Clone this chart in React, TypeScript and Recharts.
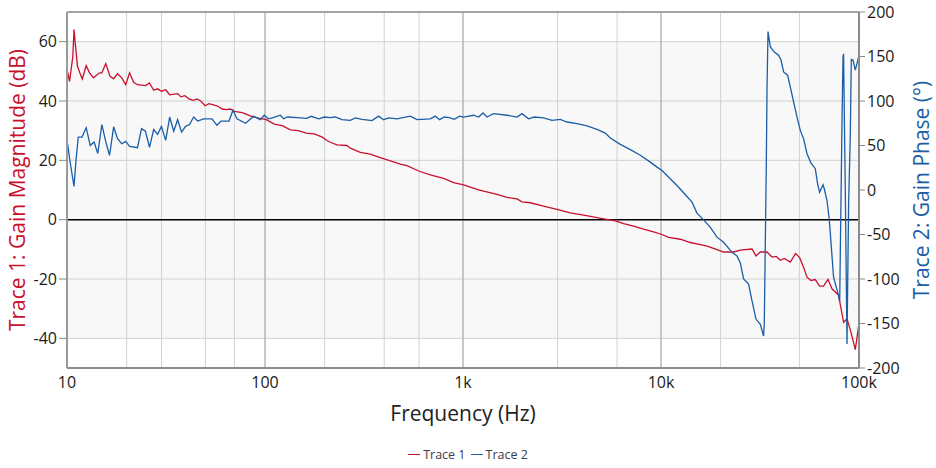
import React from 'react';
import { LineChart, Line, XAxis, YAxis, CartesianGrid, ReferenceLine, Legend } from 'recharts';

const FONT = '"Open Sans", "Noto Sans", sans-serif';
const RED = '#c8102e';
const BLUE = '#1b5ea6';

// Axis ticks
const freqTicks = [10, 100, 1000, 10000, 100000];
const freqTickLabels = ['10', '100', '1k', '10k', '100k'];
const decadeStarts = [10, 100, 1000, 10000];
const minorMultipliers = [1, 2, 3, 4, 5, 6, 7, 8, 9];
const minorTicks = [...decadeStarts.flatMap((d) => minorMultipliers.map((m) => d * m)), 100000];
const decadeLines = [100, 1000, 10000];
const magTicks = [-40, -20, 0, 20, 40, 60];
const phaseTicks = [-200, -150, -100, -50, 0, 50, 100, 150, 200];
const magDomain = [-50, 70];
const phaseDomain = [-200, 200];
const freqDomain = [10, 100000];

// Trace 1: Gain Magnitude (dB)
const magFreq = [
  10.07, 10.3, 10.7, 10.85, 11.0, 11.3, 11.7, 11.95, 12.5, 13.0,
  13.6, 14.6, 15.0, 15.7, 16.5, 17.2, 18.0, 18.9, 19.8, 20.7,
  21.7, 22.7, 24.9, 26.1, 27.4, 28.7, 30.0, 31.5, 33.0, 36.2,
  37.6, 39.4, 41.3, 43.3, 45.4, 47.5, 49.8, 52.1, 57.2, 60.8,
  63.8, 66.8, 70.0, 76.8, 84.3, 92.5, 101.5, 111.4, 122.3, 134.2,
  147.3, 161.7, 177.4, 194.7, 205.7, 213.7, 231, 259.5, 269.7, 302.9,
  340.2, 382.2, 429.3, 482.3, 521.4, 596.8, 683.7, 798, 896.5, 1007,
  1177, 1271, 1485, 1668, 1874, 1986, 2187, 2553, 2984, 3483,
  4064, 4752, 5130, 5877, 6474, 7272, 8168, 9175, 10118, 10925,
  12516, 14060, 15794, 17075, 18440, 20712, 23266, 25147, 28814, 30184,
  31731, 34303, 36356, 38217, 40040, 41947, 44978, 47837, 50119, 52500,
  54630, 57230, 60160, 63240, 66250, 69720, 73040, 78890, 83590, 86970,
  91120, 95790, 100000,
];
const magDb = [
  49.7, 46.6, 55, 64.1, 59.6, 51.7, 48.9, 47.4, 51.9, 49.5,
  47.8, 49.5, 49.5, 52.6, 48.3, 47.5, 49.2, 47.8, 45.5, 49.5,
  46.3, 45.5, 45.2, 46.1, 43.6, 44.1, 43.3, 43.8, 42.1, 42.5,
  41.4, 41.8, 40.7, 40.2, 40.7, 39.9, 38.4, 39.1, 38.4, 37.3,
  37.1, 37.3, 36.5, 36.1, 35, 34.2, 33.7, 32.2, 31.7, 30.3,
  30, 29.2, 28.9, 27.8, 26.7, 26.1, 25.2, 25, 24.1, 22.7,
  22.1, 20.9, 19.8, 18.7, 18.2, 16.4, 15.1, 13.9, 12.5, 11.7,
  10.2, 9.6, 8.5, 7.5, 7, 6, 5.7, 4.6, 3.5, 2.3,
  1.5, 0.7, 0.3, -0.4, -1.3, -2.2, -3.2, -4.1, -5, -6,
  -6.6, -7.7, -8.4, -8.9, -9.7, -10.9, -10.9, -10.3, -9.9, -12.2,
  -10.9, -10.9, -12.6, -12.4, -13.7, -13.1, -14.3, -11.4, -12.8, -16,
  -19.4, -20.5, -20.2, -22.4, -22.4, -20.1, -23.3, -25.5, -34.6, -33.4,
  -38, -43.8, -34.9,
];

// Trace 2: Gain Phase (deg)
const phaseFreq = [
  10.07, 10.4, 10.85, 11.1, 11.4, 11.9, 12.5, 13.1, 13.7, 14.3,
  15.0, 15.7, 16.4, 17.2, 18.0, 18.9, 19.8, 20.7, 22.7, 23.8,
  24.9, 26.1, 27.4, 28.7, 30.0, 31.5, 33.0, 34.6, 36.2, 37.9,
  39.7, 41.6, 43.6, 45.7, 49.0, 54.0, 57.2, 60.0, 65.8, 68.9,
  72.2, 79.8, 87.6, 94.7, 99.2, 103.9, 108.9, 119.5, 124.2, 130.1,
  150.8, 163, 170.8, 187.4, 199.3, 213.7, 226.5, 244.8, 269.7, 285.8,
  309, 347, 374.8, 397.2, 421, 464.2, 541.8, 585.8, 683.7, 724.6,
  761.8, 804.7, 852.8, 903.6, 961, 1007, 1131, 1199, 1262, 1322,
  1427, 1668, 1874, 1986, 2145, 2291, 2553, 2816, 3100, 3352,
  3765, 4229, 4752, 5232, 5545, 6229, 6998, 7862, 8831, 9546,
  10118, 10723, 12043, 13530, 14345, 15199, 16418, 17746, 19180, 20712,
  22840, 24200, 25147, 26140, 27700, 28814, 30184, 31731, 32970, 33240,
  33630, 34020, 34303, 34710, 35650, 37350, 39260, 40370, 41610, 43590,
  44978, 46740, 48630, 50520, 52500, 54630, 57230, 60160, 61790, 63240,
  65800, 66790, 68920, 70550, 71040, 74410, 78890, 79880, 82080, 83050,
  83590, 84320, 85280, 86970, 88630, 90400, 91450, 93270, 95790, 97700,
  100000,
];
const phaseDeg = [
  52, 29.5, 4, 33, 59.5, 59.5, 70, 50, 54, 41,
  73.5, 54, 39, 71, 57.7, 52, 54.6, 49, 47.5, 69,
  66, 48, 68, 62.5, 71.5, 55.8, 82, 66, 79, 65,
  71.5, 73.5, 82, 77.5, 80, 80, 72.7, 77.5, 77.5, 89.6,
  80, 75, 82.8, 79, 84, 80, 81, 84, 80, 82,
  81, 80.5, 82.8, 80, 82, 81.4, 82, 79, 78.3, 81,
  79.4, 78, 83, 79, 81, 80, 83, 79, 80, 83,
  79, 82, 81.4, 79.4, 83, 82, 84, 82, 86.5, 82,
  85.8, 84, 82, 85.8, 80, 82, 81, 78.3, 79.4, 76.4,
  74.6, 72, 68, 64, 58.5, 51.3, 45.3, 39, 31.3, 25.7,
  22, 16.3, 5, -7.3, -13.7, -26, -33.6, -42, -53, -58.8,
  -70, -74, -82, -100, -105.7, -124.5, -145, -150.8, -164, -150,
  -60.6, 25.7, 112, 178, 161, 155, 151.5, 146, 132.7, 129,
  115.8, 99, 82, 67, 57.7, 40.8, 30.2, 23.9, 7, -2.5,
  5.9, 1.4, -11.8, -30.6, -38, -98, -119, -125, 78, 150,
  153, 82, -1, -173, -15, 63, 146.7, 146, 134.6, 142,
  151.5,
];

const magData = magFreq.map((f, i) => ({ f, v: magDb[i] }));
const phaseData = phaseFreq.map((f, i) => ({ f, v: phaseDeg[i] }));

const bandFills = ['#ffffff', '#f8f8f8', '#f8f8f8', '#f8f8f8', '#f8f8f8', '#f8f8f8', '#ffffff'];

const formatFreq = (v: number) => {
  const i = freqTicks.indexOf(v);
  return i >= 0 ? freqTickLabels[i] : String(v);
};

const LeftLabel = (props: any) => {
  const vb = props.viewBox || {};
  const cx = (vb.x ?? 0) + 17;
  const cy = (vb.y ?? 12) + (vb.height ?? 356) / 2;
  return (
    <text x={cx} y={cy} transform={`rotate(-90 ${cx} ${cy})`} textAnchor="middle" dominantBaseline="central"
      fill={RED} fontSize={21} fontFamily={FONT}>
      Trace 1: Gain Magnitude (dB)
    </text>
  );
};

const RightLabel = (props: any) => {
  const vb = props.viewBox || {};
  const cx = (vb.x ?? 859) + 62;
  const cy = (vb.y ?? 12) + (vb.height ?? 356) / 2;
  return (
    <text x={cx} y={cy} transform={`rotate(-90 ${cx} ${cy})`} textAnchor="middle" dominantBaseline="central"
      fill={BLUE} fontSize={21} fontFamily={FONT}>
      Trace 2: Gain Phase (°)
    </text>
  );
};

const renderLegend = (props: any) => {
  const payload = props.payload || [];
  return (
    <div style={{ display: 'flex', justifyContent: 'center', alignItems: 'center', height: 28, fontFamily: FONT, fontSize: 12.5, color: '#3c3c4c' }}>
      {payload.map((p: any, i: number) => (
        <span key={i} style={{ display: 'inline-flex', alignItems: 'center', marginLeft: i ? 5 : 0 }}>
          <span style={{ display: 'inline-block', width: 12, borderTop: `1.5px solid ${p.color}`, marginRight: 3 }} />
          {p.value}
        </span>
      ))}
    </div>
  );
};

export default function App() {
  return (
    <div style={{ position: 'absolute', left: 0, top: 0, width: 936, height: 468, background: '#ffffff' }}>
      <LineChart width={936} height={468} margin={{ top: 12, right: 0, bottom: 0, left: 0 }}>
        <CartesianGrid xAxisId="minor" yAxisId="left" stroke="#d2d2d2" strokeWidth={1}
          horizontalFill={bandFills} fillOpacity={1} />
        <XAxis xAxisId="minor" type="number" dataKey="f" scale="log" domain={freqDomain} ticks={minorTicks}
          hide allowDataOverflow />
        <XAxis xAxisId="main" type="number" dataKey="f" scale="log" domain={freqDomain} ticks={freqTicks}
          interval={0} tickFormatter={formatFreq} height={72} tickSize={0} tickMargin={9} allowDataOverflow
          axisLine={{ stroke: '#8c8c8c', strokeWidth: 2 }}
          tick={{ fill: '#1a1a1a', fontSize: 16, fontFamily: FONT }}
          label={{ value: 'Frequency (Hz)', position: 'insideBottom', offset: 19, fill: '#222222', fontSize: 21, fontFamily: FONT }} />
        <YAxis yAxisId="left" type="number" domain={magDomain} ticks={magTicks} interval={0} width={67}
          tickSize={8} tickMargin={2} allowDataOverflow
          axisLine={{ stroke: '#9a9a9a', strokeWidth: 2 }} tickLine={{ stroke: '#888888' }}
          tick={{ fill: '#1a1a1a', fontSize: 16, fontFamily: FONT }} label={LeftLabel} />
        <YAxis yAxisId="right" orientation="right" type="number" domain={phaseDomain} ticks={phaseTicks} interval={0}
          width={77} tickSize={6} tickMargin={2} allowDataOverflow
          axisLine={{ stroke: '#8c8c8c', strokeWidth: 2 }} tickLine={{ stroke: '#888888' }}
          tick={{ fill: '#1a1a1a', fontSize: 16, fontFamily: FONT }} label={RightLabel} />
        {decadeLines.map((d) => (
          <ReferenceLine key={d} xAxisId="main" yAxisId="left" x={d} stroke="#a8a8a8" strokeWidth={1} />
        ))}
        <ReferenceLine xAxisId="main" yAxisId="left" y={magDomain[1]} stroke="#8c8c8c" strokeWidth={1.5} ifOverflow="visible" />
        <ReferenceLine xAxisId="main" yAxisId="left" y={0} stroke="#000000" strokeWidth={1.5} />
        <Line xAxisId="main" yAxisId="left" data={magData} dataKey="v" name="Trace 1" type="linear"
          stroke={RED} strokeWidth={1.3} dot={false} activeDot={false} isAnimationActive={false} />
        <Line xAxisId="main" yAxisId="right" data={phaseData} dataKey="v" name="Trace 2" type="linear"
          stroke={BLUE} strokeWidth={1.3} dot={false} activeDot={false} isAnimationActive={false} />
        <Legend verticalAlign="bottom" align="center" content={renderLegend} wrapperStyle={{ height: 28 }} />
      </LineChart>
    </div>
  );
}
